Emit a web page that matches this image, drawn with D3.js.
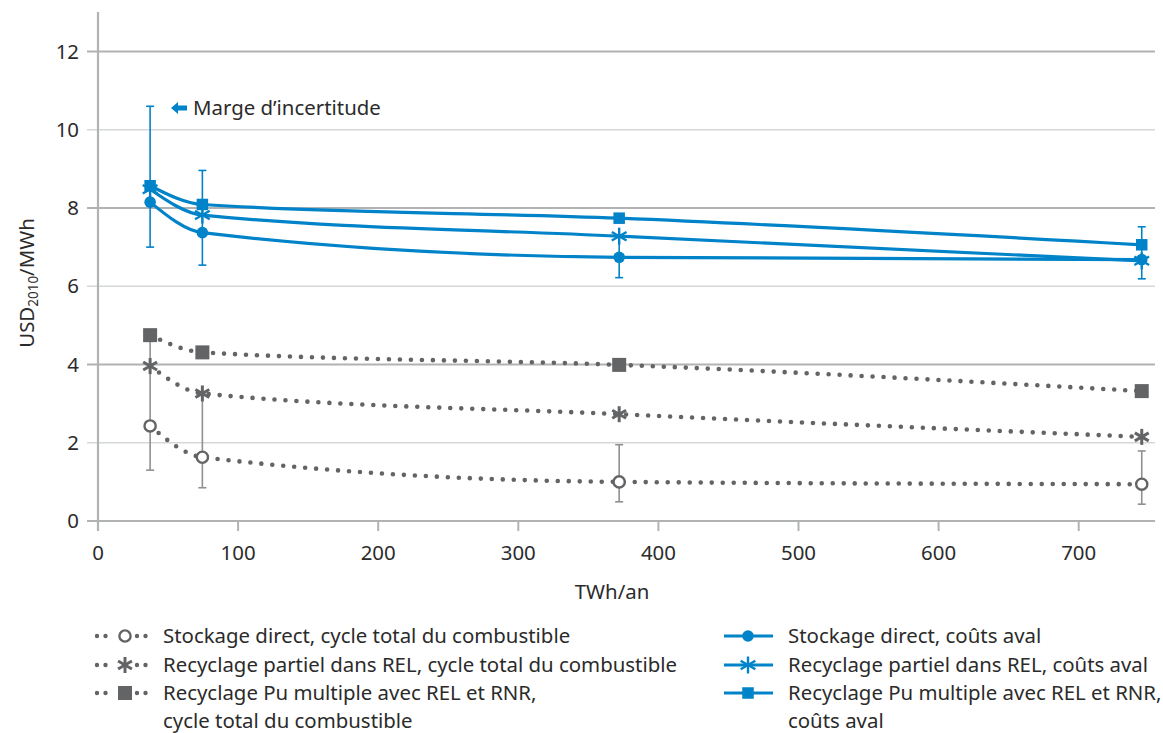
<!DOCTYPE html>
<html>
<head>
<meta charset="utf-8">
<script src="https://cdn.jsdelivr.net/npm/d3@7"></script>
<style>
  body { margin: 0; background: #fff; }
  svg { display: block; font-family: "Noto Sans", "Open Sans", sans-serif; }
</style>
</head>
<body>
<div id="chart"></div>
<script>
// data
const xValues = [37.2, 74.5, 372, 745];

const directTotal  = [2.43, 1.63, 1.00, 0.94];
const partialTotal = [3.96, 3.26, 2.73, 2.15];
const puTotal      = [4.75, 4.31, 3.99, 3.32];

const directBack  = [8.15, 7.37, 6.74, 6.68];
const partialBack = [8.48, 7.82, 7.28, 6.65];
const puBack      = [8.57, 8.09, 7.74, 7.06];

const blueErrLow  = [7.0, 6.54, 6.22, 6.19];
const blueErrHigh = [10.6, 8.96, 7.3, 7.52];
const greyErrLow  = [1.3, 0.85, 0.49, 0.43];
const greyErrHigh = [4.7, 3.3, 1.95, 1.79];

const yTicks = [0, 2, 4, 6, 8, 10, 12];
const xTicks = [0, 100, 200, 300, 400, 500, 600, 700];

const legendLeft = [
  ["Stockage direct, cycle total du combustible"],
  ["Recyclage partiel dans REL, cycle total du combustible"],
  ["Recyclage Pu multiple avec REL et RNR,", "cycle total du combustible"]
];
const legendRight = [
  ["Stockage direct, coûts aval"],
  ["Recyclage partiel dans REL, coûts aval"],
  ["Recyclage Pu multiple avec REL et RNR,", "coûts aval"]
];

const BLUE = "#0083c8";
const GREY = "#636466";
const ERRGREY = "#8f9092";
const TEXT = "#2b2b2b";
const FS = 20.4;

const width = 1163, height = 733;
const x = d3.scaleLinear([0, 700], [98, 1078.7]);
const y = d3.scaleLinear([0, 12], [521, 51.5]);

const svg = d3.select("#chart").append("svg")
  .attr("width", width).attr("height", height);

// gridlines
svg.append("g").selectAll("line").data(yTicks).join("line")
  .attr("x1", 87).attr("x2", 1155)
  .attr("y1", d => y(d)).attr("y2", d => y(d))
  .attr("stroke", d => d % 4 === 0 ? "#b1b2b4" : "#d6d7d8")
  .attr("stroke-width", d => d % 4 === 0 ? 2.2 : 1.6);

// y axis line
svg.append("line")
  .attr("x1", x(0)).attr("x2", x(0)).attr("y1", 12).attr("y2", 531)
  .attr("stroke", "#b1b2b4").attr("stroke-width", 2.2);

// x ticks
svg.append("g").selectAll("line").data(xTicks.slice(1)).join("line")
  .attr("x1", d => x(d)).attr("x2", d => x(d))
  .attr("y1", y(0)).attr("y2", 531)
  .attr("stroke", "#b1b2b4").attr("stroke-width", 2);

svg.append("g").selectAll("text").data(yTicks).join("text")
  .attr("x", 79).attr("y", d => y(d)).attr("dy", "0.35em")
  .attr("text-anchor", "end").attr("font-size", FS).attr("fill", TEXT)
  .text(d => d);

svg.append("g").selectAll("text").data(xTicks).join("text")
  .attr("x", d => x(d)).attr("y", 553).attr("dy", "0.35em")
  .attr("text-anchor", "middle").attr("font-size", FS).attr("fill", TEXT)
  .text(d => d);

svg.append("text")
  .attr("x", 612).attr("y", 592).attr("dy", "0.35em")
  .attr("text-anchor", "middle").attr("font-size", FS).attr("fill", TEXT)
  .text("TWh/an");

const ylab = svg.append("text")
  .attr("transform", "translate(34,283) rotate(-90)")
  .attr("text-anchor", "middle").attr("font-size", FS).attr("fill", TEXT);
ylab.append("tspan").text("USD");
ylab.append("tspan").attr("font-size", 13.5).attr("dy", 4).text("2010");
ylab.append("tspan").attr("dy", -4).text("/MWh");

// error bars
const errBars = (lo, hi, color) => {
  const g = svg.append("g").attr("stroke", color).attr("stroke-width", 1.6);
  xValues.forEach((xv, i) => {
    g.append("line").attr("x1", x(xv)).attr("x2", x(xv))
      .attr("y1", y(lo[i])).attr("y2", y(hi[i]));
    [lo[i], hi[i]].forEach(v => g.append("line")
      .attr("x1", x(xv) - 4).attr("x2", x(xv) + 4)
      .attr("y1", y(v)).attr("y2", y(v)));
  });
};
errBars(greyErrLow, greyErrHigh, ERRGREY);
errBars(blueErrLow, blueErrHigh, BLUE);

const line = d3.line()
  .x((d, i) => x(xValues[i])).y(d => y(d))
  .curve(d3.curveMonotoneX);

// markers
const asterisk = (g, cx, cy, r, color, w) => {
  [90, 30, -30].forEach(a => {
    const dx = r * Math.cos(a * Math.PI / 180), dy = r * Math.sin(a * Math.PI / 180);
    g.append("line").attr("x1", cx - dx).attr("x2", cx + dx)
      .attr("y1", cy - dy).attr("y2", cy + dy)
      .attr("stroke", color).attr("stroke-width", w);
  });
};
const marker = (g, type, cx, cy, color, big) => {
  if (type === "circle") {
    g.append("circle").attr("cx", cx).attr("cy", cy).attr("r", 5.8).attr("fill", color);
  } else if (type === "ring") {
    g.append("circle").attr("cx", cx).attr("cy", cy).attr("r", 5.6)
      .attr("fill", "#fff").attr("stroke", color).attr("stroke-width", 2.4);
  } else if (type === "square") {
    const s = big ? 14 : 11.5;
    g.append("rect").attr("x", cx - s / 2).attr("y", cy - s / 2)
      .attr("width", s).attr("height", s).attr("fill", color);
  } else {
    asterisk(g, cx, cy, big ? 8 : 8.5, color, big ? 3 : 2.4);
  }
};

const greySeries = [
  [directTotal, "ring"], [partialTotal, "asterisk"], [puTotal, "square"]
];
const blueSeries = [
  [directBack, "circle"], [partialBack, "asterisk"], [puBack, "square"]
];

greySeries.forEach(([vals, type]) => {
  svg.append("path").attr("d", line(vals)).attr("fill", "none")
    .attr("stroke", GREY).attr("stroke-width", 4.6)
    .attr("stroke-linecap", "round").attr("stroke-dasharray", "0 11");
  const g = svg.append("g");
  vals.forEach((v, i) => marker(g, type, x(xValues[i]), y(v), GREY, true));
});

blueSeries.forEach(([vals, type]) => {
  svg.append("path").attr("d", line(vals)).attr("fill", "none")
    .attr("stroke", BLUE).attr("stroke-width", 3.2);
  const g = svg.append("g");
  vals.forEach((v, i) => marker(g, type, x(xValues[i]), y(v), BLUE, false));
});

// annotation
svg.append("path")
  .attr("d", "M171,108 L178,102 L178,105.5 L187,105.5 L187,110.5 L178,110.5 L178,114 Z")
  .attr("fill", BLUE);
svg.append("text").attr("x", 193).attr("y", 108).attr("dy", "0.35em")
  .attr("font-size", FS).attr("fill", TEXT).text("Marge d\u2019incertitude");

// legend
const rowsY = [636, 665, 693];
const lgL = svg.append("g");
legendLeft.forEach((lines, i) => {
  const cy = rowsY[i];
  lgL.append("path").attr("d", `M97,${cy} L114,${cy}`)
    .attr("stroke", GREY).attr("stroke-width", 4.4).attr("stroke-linecap", "round")
    .attr("stroke-dasharray", "0 8.5");
  lgL.append("path").attr("d", `M137,${cy} L154,${cy}`)
    .attr("stroke", GREY).attr("stroke-width", 4.4).attr("stroke-linecap", "round")
    .attr("stroke-dasharray", "0 8.5");
  marker(lgL, greySeries[i][1], 125, cy, GREY, true);
  lines.forEach((t, j) => lgL.append("text")
    .attr("x", 163).attr("y", cy + j * 28).attr("dy", "0.35em")
    .attr("font-size", FS).attr("fill", TEXT).text(t));
});

const lgR = svg.append("g");
legendRight.forEach((lines, i) => {
  const cy = rowsY[i];
  lgR.append("line").attr("x1", 724).attr("x2", 773).attr("y1", cy).attr("y2", cy)
    .attr("stroke", BLUE).attr("stroke-width", 3.2);
  marker(lgR, blueSeries[i][1], 748, cy, BLUE, false);
  lines.forEach((t, j) => lgR.append("text")
    .attr("x", 788).attr("y", cy + j * 28).attr("dy", "0.35em")
    .attr("font-size", FS).attr("fill", TEXT).text(t));
});
</script>
</body>
</html>
